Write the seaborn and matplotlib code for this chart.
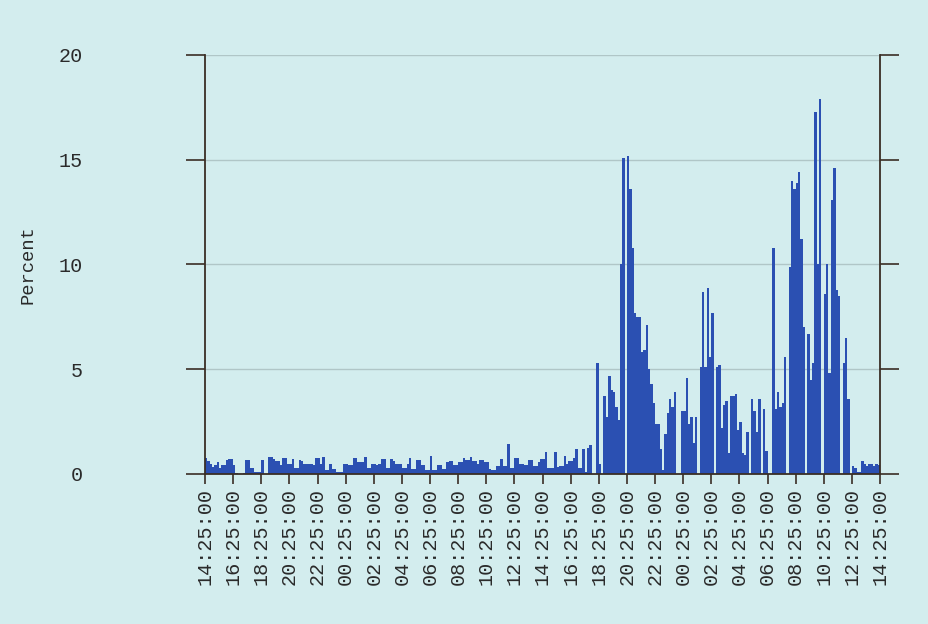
import numpy as np
import pandas as pd
import matplotlib
matplotlib.use('Agg')
import matplotlib.pyplot as plt
import seaborn as sns

# CPU load, one bar per 10 minutes over 48 hours
percent = [
    0.75, 0.6, 0.5, 0.35, 0.45, 0.55, 0.3, 0.45, 0.45, 0.65, 0.7, 0.7,
    0.45, 0.05, 0.0, 0.0, 0.05, 0.65, 0.65, 0.3, 0.3, 0.1, 0.1, 0.1,
    0.65, 0.0, 0.0, 0.8, 0.8, 0.7, 0.6, 0.6, 0.45, 0.75, 0.75, 0.5,
    0.5, 0.7, 0.3, 0.3, 0.65, 0.6, 0.5, 0.5, 0.5, 0.5, 0.45, 0.75,
    0.75, 0.5, 0.8, 0.2, 0.2, 0.5, 0.25, 0.25, 0.1, 0.1, 0.1, 0.5,
    0.5, 0.45, 0.45, 0.75, 0.75, 0.55, 0.55, 0.55, 0.8, 0.3, 0.3, 0.5,
    0.5, 0.45, 0.5, 0.7, 0.7, 0.3, 0.3, 0.7, 0.6, 0.5, 0.5, 0.5,
    0.3, 0.3, 0.5, 0.75, 0.25, 0.25, 0.65, 0.65, 0.45, 0.45, 0.2, 0.2,
    0.85, 0.2, 0.2, 0.45, 0.45, 0.25, 0.25, 0.55, 0.6, 0.6, 0.45, 0.45,
    0.55, 0.55, 0.75, 0.65, 0.65, 0.8, 0.6, 0.6, 0.5, 0.65, 0.65, 0.55,
    0.55, 0.25, 0.2, 0.2, 0.4, 0.4, 0.7, 0.4, 0.4, 1.45, 0.3, 0.3,
    0.75, 0.75, 0.5, 0.5, 0.45, 0.45, 0.65, 0.65, 0.4, 0.4, 0.55, 0.7,
    0.7, 1.05, 0.3, 0.3, 0.3, 1.05, 0.35, 0.4, 0.4, 0.85, 0.5, 0.6,
    0.6, 0.75, 1.2, 0.3, 0.3, 1.2, 0.1, 1.25, 1.4, 0.0, 0.0, 5.3,
    0.5, 0.0, 3.7, 2.7, 4.7, 4.0, 3.9, 3.2, 2.6, 10.0, 15.1, 0.0,
    15.2, 13.6, 10.8, 7.7, 7.5, 7.5, 5.8, 5.9, 7.1, 5.0, 4.3, 3.4,
    2.4, 2.4, 1.2, 0.2, 1.9, 2.9, 3.6, 3.2, 3.9, 0.0, 0.0, 3.0,
    3.0, 4.6, 2.4, 2.7, 1.5, 2.7, 0.0, 5.1, 8.7, 5.1, 8.9, 5.6,
    7.7, 0.0, 5.1, 5.2, 2.2, 3.3, 3.5, 1.0, 3.7, 3.7, 3.8, 2.1,
    2.5, 1.0, 0.9, 2.0, 0.0, 3.6, 3.0, 2.0, 3.6, 0.0, 3.1, 1.1,
    0.0, 0.0, 10.8, 3.1, 3.9, 3.2, 3.4, 5.6, 0.0, 9.9, 14.0, 13.6,
    13.9, 14.4, 11.2, 7.0, 0.0, 6.7, 4.5, 5.3, 17.3, 10.0, 17.9, 0.0,
    8.6, 10.0, 4.8, 13.1, 14.6, 8.8, 8.5, 0.0, 5.3, 6.5, 3.6, 0.0,
    0.4, 0.3, 0.1, 0.1, 0.6, 0.5, 0.4, 0.5, 0.5, 0.4, 0.5, 0.45,
]

time_labels = [
    '14:25:00', '16:25:00', '18:25:00', '20:25:00', '22:25:00',
    '00:25:00', '02:25:00', '04:25:00', '06:25:00', '08:25:00',
    '10:25:00', '12:25:00', '14:25:00', '16:25:00', '18:25:00',
    '20:25:00', '22:25:00', '00:25:00', '02:25:00', '04:25:00',
    '06:25:00', '08:25:00', '10:25:00', '12:25:00', '14:25:00',
]
y_ticks = [0, 5, 10, 15, 20]

df = pd.DataFrame({'slot': np.arange(len(percent)), 'percent': percent})

sns.set_theme(style='white')
plt.rcParams['font.family'] = ['Liberation Mono', 'DejaVu Sans Mono', 'DejaVu Sans']

bg = '#d3edee'
ink = '#3a2e25'
text_col = '#2a2a2a'
fig = plt.figure(figsize=(9.29, 6.24), dpi=100, facecolor=bg)
ax = fig.add_axes([0.2207, 0.2404, 0.7266, 0.6715])
ax.set_facecolor(bg)

sns.barplot(data=df, x='slot', y='percent', native_scale=True, width=1.0,
            color='#2b50b2', saturation=1, errorbar=None, linewidth=0, ax=ax)

ax.set_xlim(-0.5, len(percent) - 0.5)
ax.set_ylim(0, 20)

# ticks every 2 hours (12 bars)
ax.set_xticks(np.arange(len(time_labels)) * 12 - 0.5)
ax.set_xticklabels(time_labels, rotation=90, fontsize=14.5, color=text_col)
ax.set_yticks(y_ticks)
ax.set_yticklabels([str(v) for v in y_ticks], fontsize=14.5, color=text_col)

ax.tick_params(axis='x', direction='out', length=7, width=1.2, color=ink, pad=3, bottom=True)
ax.tick_params(axis='y', direction='out', length=14, width=1.2, color=ink, pad=74,
               left=True, right=True, labelright=False)

ax.yaxis.grid(True, color='#b0c6c7', linewidth=1)
ax.xaxis.grid(False)
ax.set_axisbelow(True)

for side in ['left', 'right', 'bottom']:
    ax.spines[side].set_color(ink)
    ax.spines[side].set_linewidth(1.3)
ax.spines['top'].set_visible(False)

ax.set_xlabel('')
ax.set_ylabel('Percent', fontsize=13.5, color=text_col)
ax.yaxis.set_label_coords(-0.25, 0.5)

fig.savefig('out.png', dpi=100, facecolor=bg)
